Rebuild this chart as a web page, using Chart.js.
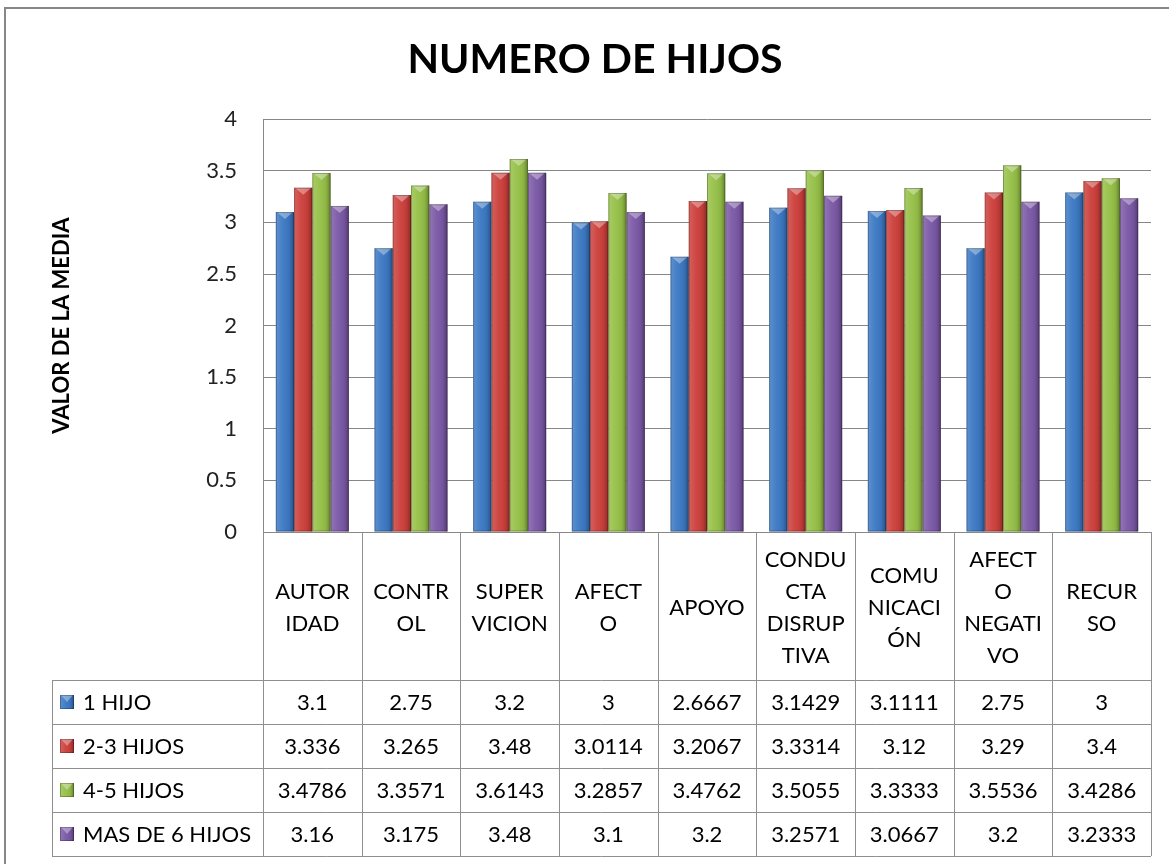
<!DOCTYPE html>
<html lang="es">
<head>
<meta charset="UTF-8">
<title>NUMERO DE HIJOS</title>
<script src="https://cdn.jsdelivr.net/npm/chart.js"></script>
<style>
  body { margin: 0; background: #fff; }
  canvas { display: block; }
</style>
</head>
<body>
<canvas id="grafico" width="1169" height="864"></canvas>
<script>
// categorias (partidas en lineas como en la tabla de datos)
const categorias = [
  ['AUTOR', 'IDAD'], ['CONTR', 'OL'], ['SUPER', 'VICION'], ['AFECT', 'O'], ['APOYO'],
  ['CONDU', 'CTA', 'DISRUP', 'TIVA'], ['COMU', 'NICACI', 'ÓN'], ['AFECT', 'O', 'NEGATI', 'VO'], ['RECUR', 'SO']
];
const series = ['1 HIJO', '2-3 HIJOS', '4-5 HIJOS', 'MAS DE 6 HIJOS'];
const colores = ['#3b78c3', '#cc3f3b', '#96c047', '#7b58a6'];

const hijo1 = [3.1, 2.75, 3.2, 3, 2.6667, 3.1429, 3.1111, 2.75, 3.29];
const hijos23 = [3.336, 3.265, 3.48, 3.0114, 3.2067, 3.3314, 3.12, 3.29, 3.4];
const hijos45 = [3.4786, 3.3571, 3.6143, 3.2857, 3.4762, 3.5055, 3.3333, 3.5536, 3.4286];
const hijos6 = [3.16, 3.175, 3.48, 3.1, 3.2, 3.2571, 3.0667, 3.2, 3.2333];

// lo que imprime la tabla (RECURSO / 1 HIJO sale como 3 aunque la barra llega a ~3.29)
const textoHijo1 = ['3.1', '2.75', '3.2', '3', '2.6667', '3.1429', '3.1111', '2.75', '3'];

const valores = [hijo1, hijos23, hijos45, hijos6];
const textos = [textoHijo1, hijos23.map(String), hijos45.map(String), hijos6.map(String)];

const fuente = 'Lato, "Open Sans", sans-serif';
const altoCabecera = 148;
const altoFila = 44;
const bordeTabla = 52;

// relieve de las barras (degradado lateral + bisel arriba)
function relieve(ctx, izq, arriba, ancho, abajo) {
  const g = ctx.createLinearGradient(izq, 0, izq + ancho, 0);
  g.addColorStop(0, 'rgba(255,255,255,0.18)');
  g.addColorStop(0.4, 'rgba(255,255,255,0.04)');
  g.addColorStop(0.75, 'rgba(0,0,0,0.06)');
  g.addColorStop(1, 'rgba(0,0,0,0.32)');
  ctx.fillStyle = g;
  ctx.fillRect(izq, arriba, ancho, abajo - arriba);
  const bisel = Math.min(7, (abajo - arriba) / 2);
  ctx.fillStyle = 'rgba(255,255,255,0.35)';
  ctx.beginPath();
  ctx.moveTo(izq + 1, arriba);
  ctx.lineTo(izq + ancho - 1, arriba);
  ctx.lineTo(izq + ancho / 2, arriba + bisel);
  ctx.closePath();
  ctx.fill();
  ctx.strokeStyle = 'rgba(0,0,0,0.25)';
  ctx.lineWidth = 1;
  ctx.strokeRect(izq + 0.5, arriba + 0.5, ancho - 1, abajo - arriba - 1);
}

const marco = {
  id: 'marco',
  beforeDraw(chart) {
    const ctx = chart.ctx;
    ctx.save();
    ctx.strokeStyle = '#878787';
    ctx.lineWidth = 2;
    ctx.strokeRect(5, 8, 1200, 900);
    ctx.restore();
  }
};

const barras3d = {
  id: 'barras3d',
  afterDatasetsDraw(chart) {
    const ctx = chart.ctx;
    ctx.save();
    chart.data.datasets.forEach((ds, i) => {
      chart.getDatasetMeta(i).data.forEach(b => {
        relieve(ctx, b.x - b.width / 2, b.y, b.width, b.base);
      });
    });
    ctx.restore();
  }
};

const tablaDatos = {
  id: 'tablaDatos',
  afterDraw(chart) {
    const ctx = chart.ctx;
    const sx = chart.scales.x;
    const ancho = (sx.right - sx.left) / categorias.length;
    const y0 = Math.round(sx.top);
    const yCab = y0 + altoCabecera;
    const yFin = yCab + altoFila * series.length;
    ctx.save();
    ctx.strokeStyle = '#8f8f8f';
    ctx.lineWidth = 1;
    ctx.beginPath();
    for (let r = 0; r <= series.length; r++) {
      const y = yCab + r * altoFila + 0.5;
      ctx.moveTo(bordeTabla, y);
      ctx.lineTo(sx.right, y);
    }
    for (let i = 0; i <= categorias.length; i++) {
      const x = Math.round(sx.left + i * ancho) + 0.5;
      ctx.moveTo(x, y0);
      ctx.lineTo(x, yFin);
    }
    ctx.moveTo(bordeTabla + 0.5, yCab);
    ctx.lineTo(bordeTabla + 0.5, yFin);
    ctx.stroke();

    ctx.font = '22px ' + fuente;
    ctx.textBaseline = 'middle';
    series.forEach((s, r) => {
      const yc = yCab + r * altoFila + altoFila / 2 + 1;
      ctx.fillStyle = colores[r];
      ctx.fillRect(60, yc - 8, 14, 14);
      relieve(ctx, 60, yc - 8, 14, yc + 6);
      ctx.fillStyle = '#000';
      ctx.textAlign = 'left';
      ctx.fillText(s, 83, yc);
      ctx.textAlign = 'center';
      textos[r].forEach((t, i) => {
        ctx.fillText(t, sx.getPixelForTick(i), yc);
      });
    });
    ctx.restore();
  }
};

new Chart(document.getElementById('grafico'), {
  type: 'bar',
  data: {
    labels: categorias,
    datasets: series.map((s, i) => ({
      label: s,
      data: valores[i],
      backgroundColor: colores[i],
      borderWidth: 0,
      categoryPercentage: 0.74,
      barPercentage: 1.0
    }))
  },
  options: {
    responsive: false,
    animation: false,
    layout: { padding: { left: 39, right: 18, top: 0, bottom: 8 } },
    plugins: {
      legend: { display: false },
      tooltip: { enabled: false },
      title: {
        display: true,
        text: 'NUMERO DE HIJOS',
        color: '#000',
        font: { family: fuente, size: 41, weight: 'bold', lineHeight: 1.2 },
        padding: { top: 35, bottom: 35 }
      }
    },
    scales: {
      x: {
        grid: { display: false, drawTicks: false },
        border: { color: '#878787', width: 1 },
        ticks: {
          color: '#000',
          font: { family: fuente, size: 22, lineHeight: '32px' },
          crossAlign: 'center',
          padding: 28,
          autoSkip: false,
          maxRotation: 0
        },
        afterFit(scale) { scale.height = altoCabecera + altoFila * series.length; }
      },
      y: {
        min: 0,
        max: 4,
        ticks: {
          stepSize: 0.5,
          color: '#222',
          padding: 26,
          font: { family: fuente, size: 22 },
          callback: v => String(v)
        },
        grid: { color: '#878787', drawTicks: false },
        border: { color: '#878787', width: 1 },
        title: {
          display: true,
          text: 'VALOR DE LA MEDIA',
          color: '#000',
          font: { family: fuente, size: 22, weight: 'bold' },
          padding: { top: 10, bottom: 0 }
        },
        afterFit(scale) { scale.width = 224; }
      }
    }
  },
  plugins: [marco, barras3d, tablaDatos]
});
</script>
</body>
</html>
